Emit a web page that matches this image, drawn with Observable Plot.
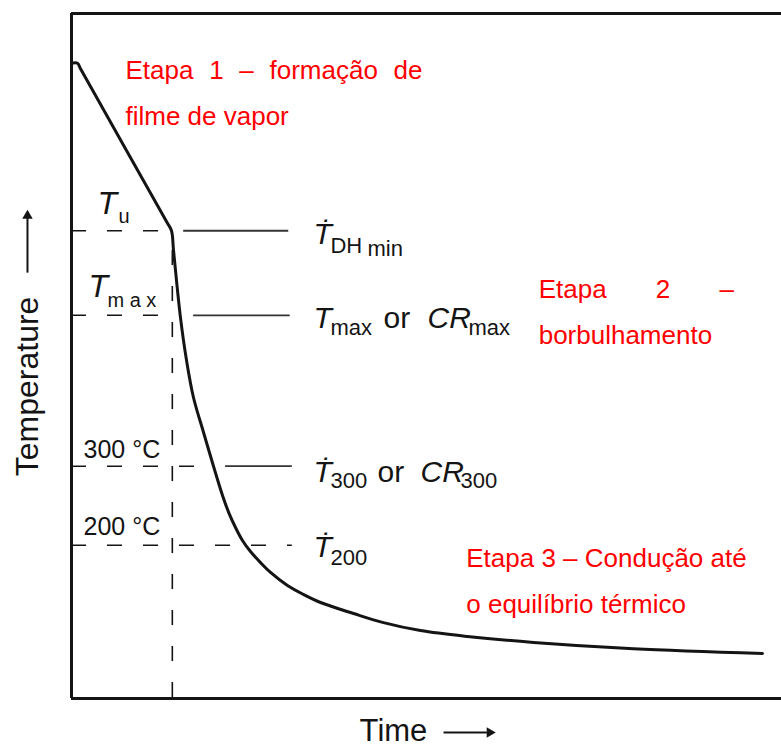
<!DOCTYPE html>
<html><head><meta charset="utf-8">
<script src="https://cdn.jsdelivr.net/npm/d3@7"></script>
<script src="https://cdn.jsdelivr.net/npm/@observablehq/plot@0.6"></script>
<style>
html,body{margin:0;padding:0;background:#fff;}
#chart svg{display:block;background:#fff;font-family:"Liberation Sans",Arial,sans-serif;}
</style></head><body><div id="chart"></div>
<script>
// cooling curve (time in arbitrary units 0-100, temperature in °C)
const time = [0, 0.85, 1.27, 13.38, 14.08, 14.37, 15.35, 16.2, 17.18, 18.59, 20.0, 21.27, 22.25, 23.1, 24.08, 25.21, 26.62, 28.03, 30.42, 32.68, 35.07, 39.72, 43.94, 49.15, 55.77, 65.07, 79.15, 97.32];
const temperature = [810, 810, 803, 609.6, 598, 573, 488, 434, 387, 343, 300, 263, 239, 222.4, 206, 192, 178, 165.5, 149, 137.6, 127.5, 113.6, 102, 92, 84.5, 77, 69, 63];

// reference levels
const levelNames = ["Tu", "Tmax", "300 °C", "200 °C"];
const levelTemps = [598, 491, 300, 200];
const dashEnd = [14.08, 14.2, 18.2, 31.1];
const solidStart = [15.8, 17.2, 21.7, 31.1];
const solidEnd = [30.6, 30.8, 31.1, 31.1];
const quenchTime = 14.2;      // vertical dashed line
const quenchTopTemp = 573;

// texts
const leftMain = ["T", "T", "300 °C", "200 °C"];
const leftSub = ["u", "m a x", "", ""];
const stageNotes = ["Etapa 1 – formação de\nfilme de vapor", "Etapa 2 –\nborbulhamento", "Etapa 3 – Condução até\no equilíbrio térmico"];
const axisLabels = ["Temperature", "Time"];

const xDomain = [0, 100], yDomain = [6, 873];
const ink = "#141414";
const red = "#ff0000";
const font = "Liberation Sans, Arial, sans-serif";

const curve = time.map((t, i) => ({t, T: temperature[i]}));
const levels = levelNames.map((name, i) => ({name, T: levelTemps[i], d1: dashEnd[i], s0: solidStart[i], s1: solidEnd[i]}));

function piece(r, text, xT, dx, dy, size, italic = false) {
  return Plot.text([levels[r]], {
    x: () => xT, y: "T", text: () => text, dx, dy,
    fontSize: size, fontStyle: italic ? "italic" : "normal",
    textAnchor: "start", lineAnchor: "bottom", fill: ink, fontFamily: font
  });
}
const tL = 3.66, tL2 = 2.39, tL3 = 1.69, tR = 34.08;

const noteAt = [[7.6, 732.5], [65.8, 455.3], [55.6, 114.8]];

const plot = Plot.plot({
  width: 781, height: 747,
  marginLeft: 71, marginRight: 0, marginTop: 13, marginBottom: 49,
  x: {domain: xDomain, axis: null},
  y: {domain: yDomain, axis: null},
  marks: [
    // frame: left, top, bottom
    Plot.ruleX([xDomain[0]], {stroke: ink, strokeWidth: 3}),
    Plot.ruleY(yDomain, {stroke: ink, strokeWidth: 3}),
    // dashed reference lines
    Plot.ruleY(levels, {y: "T", x1: () => xDomain[0], x2: "d1", stroke: ink, strokeWidth: 1.6, strokeDasharray: "15,21"}),
    Plot.ruleY(levels.filter(d => d.s1 > d.s0), {y: "T", x1: "s0", x2: "s1", stroke: "#333", strokeWidth: 1.8}),
    Plot.ruleX([quenchTime], {y1: quenchTopTemp, y2: yDomain[0], stroke: ink, strokeWidth: 1.6, strokeDasharray: "15,21"}),
    // cooling curve
    Plot.line(curve, {x: "t", y: "T", stroke: ink, strokeWidth: 3, curve: "catmull-rom"}),
    // left labels
    piece(0, leftMain[0], tL, 0, -17, 32, true),
    piece(0, leftSub[0], tL, 21, -8, 20),
    piece(1, leftMain[1], tL2, 0, -18, 32, true),
    piece(1, leftSub[1], tL2, 19, -8, 20),
    piece(2, leftMain[2], tL3, 0, -8, 25),
    piece(3, leftMain[3], tL3, 0, -10, 25),
    // right labels
    piece(0, "Ṫ", tR, 0, 13, 30, true),
    piece(0, "DH", tR, 17, 22, 22),
    piece(0, "min", tR, 54, 25, 22),
    piece(1, "T", tR, 0, 13, 30, true),
    piece(1, "max", tR, 17, 20, 22),
    piece(1, "or", tR, 70, 13, 30),
    piece(1, "CR", tR, 114, 13, 30, true),
    piece(1, "max", tR, 155, 20, 22),
    piece(2, "Ṫ", tR, 0, 16, 30, true),
    piece(2, "300", tR, 17, 22, 22),
    piece(2, "or", tR, 64, 16, 30),
    piece(2, "CR", tR, 107, 16, 30, true),
    piece(2, "300", tR, 147, 22, 22),
    piece(3, "Ṫ", tR, 0, 12, 30, true),
    piece(3, "200", tR, 17, 20, 22),
    // stage notes (red)
    Plot.text(stageNotes, {
      x: (d, i) => noteAt[i][0], y: (d, i) => noteAt[i][1], text: d => d,
      textAnchor: "start", lineAnchor: "bottom", lineHeight: 1.75,
      fontSize: 26, fill: red, fontFamily: font
    }),
    // axis labels
    Plot.text([axisLabels[0]], {x: () => -6.2, y: () => 401, text: d => d, rotate: -90, fontSize: 32, textAnchor: "middle", lineAnchor: "middle", fill: ink, fontFamily: font}),
    Plot.text([axisLabels[1]], {x: () => 45.35, y: () => -47.2, text: d => d, fontSize: 31, textAnchor: "middle", lineAnchor: "bottom", fill: ink, fontFamily: font}),
    // axis arrows
    Plot.link([0], {x1: () => -6.2, x2: () => -6.2, y1: () => 545, y2: () => 614, stroke: ink, strokeWidth: 2}),
    Plot.dot([0], {x: () => -6.2, y: () => 617, symbol: "triangle2", r: 5, fill: ink, stroke: "none"}),
    Plot.link([0], {x1: () => 52.4, x2: () => 58.5, y1: () => -37, y2: () => -37, stroke: ink, strokeWidth: 2}),
    Plot.dot([0], {x: () => 58.9, y: () => -37, symbol: "triangle2", r: 5, rotate: 90, fill: ink, stroke: "none"})
  ]
});

// justify the first lines of stage notes 1 and 2
const spacing = {"Etapa 1 – formação de": "8.5px", "Etapa 2 –": "42px"};
d3.select(plot).selectAll("tspan, text").each(function () {
  if (this.childElementCount === 0 && spacing[this.textContent]) this.style.wordSpacing = spacing[this.textContent];
});
document.getElementById("chart").appendChild(plot);
</script>
</body></html>
